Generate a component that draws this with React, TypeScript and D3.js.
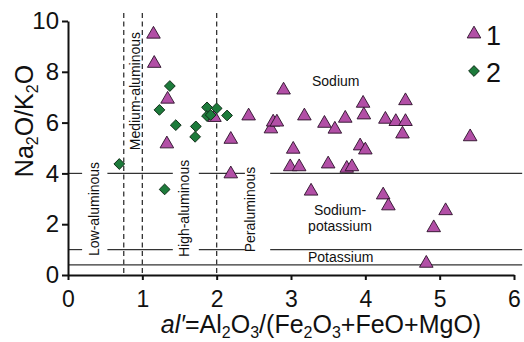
import React, { useRef, useEffect } from "react";
import * as d3 from "d3";

const width = 524;
const height = 342;
const plot = { left: 68, right: 514, top: 21, bottom: 275 }; // axis box in px
const font = "'Liberation Sans', Arial, sans-serif";
const triColor = "#b24fa6";
const dmdColor = "#1d7b3b";

// group 1 (triangles)
const triX = [1.15, 1.16, 1.34, 1.33, 1.97, 2.19, 2.19, 2.43, 2.73, 2.76, 2.81, 2.9, 3.18, 3.45, 3.59, 3.73, 3.03, 2.99, 3.11, 3.5, 3.75, 3.82, 3.27, 3.97, 3.98, 4.54, 4.27, 4.41, 4.54, 4.5, 5.41, 3.93, 4.0, 4.24, 4.31, 5.08, 4.92, 4.82];
const triY = [9.48, 8.33, 6.92, 5.16, 6.2, 5.34, 3.98, 6.26, 5.75, 6.02, 6.02, 7.28, 6.26, 5.97, 5.74, 6.17, 4.95, 4.26, 4.26, 4.37, 4.2, 4.26, 3.3, 6.76, 6.3, 6.86, 6.13, 6.04, 6.04, 5.55, 5.44, 5.08, 4.92, 3.15, 2.72, 2.53, 1.86, 0.46];
// group 2 (diamonds)
const dmdX = [0.69, 1.3, 1.37, 1.23, 1.45, 1.72, 1.71, 1.87, 2.0, 1.87, 1.92, 2.14];
const dmdY = [4.37, 3.37, 7.44, 6.5, 5.9, 5.85, 5.44, 6.6, 6.56, 6.26, 6.3, 6.28];

const xTicks = [0, 1, 2, 3, 4, 5, 6];
const yTicks = [0, 2, 4, 6, 8, 10];
const dashedX = [0.75, 1, 2]; // al' boundaries
const splitY = [4, 1]; // Na2O/K2O boundaries, broken around labels
const splitGaps = [[0.19, 0.53], [1.41, 1.76], [2.38, 2.72]];
const baseY = 0.4;
const lineEnd = 6.11;

const vLabels = [
  { text: "Low-aluminous", x: 0.42, y: 2.6 },
  { text: "Medium-aluminous", x: 0.965, y: 7.24 },
  { text: "High-aluminous", x: 1.63, y: 2.62 },
  { text: "Peraluminous", x: 2.52, y: 2.58 },
];

const x = d3.scaleLinear().domain([0, 6]).range([plot.left, plot.right]);
const y = d3.scaleLinear().domain([0, 10]).range([plot.bottom, plot.top]);

const triPath = d3.symbol(d3.symbolTriangle, 80)();
const dmdPath = d3.symbol(d3.symbolSquare, 58)();

const segments = (yv: number) => {
  const out: [number, number][] = [];
  let start = 0;
  splitGaps.forEach(([a, b]) => {
    out.push([start, a]);
    start = b;
  });
  out.push([start, lineEnd]);
  return out.map(([a, b]) => ({ a, b, yv }));
};

const App = () => {
  const xAxisRef = useRef<SVGGElement>(null);
  const yAxisRef = useRef<SVGGElement>(null);

  useEffect(() => {
    const fmt = d3.format("d");
    const xAxis = d3.axisBottom(x).tickValues(xTicks).tickFormat(fmt).tickSize(5).tickSizeOuter(0).tickPadding(11);
    const yAxis = d3.axisLeft(y).tickValues(yTicks).tickFormat(fmt).tickSize(6).tickSizeOuter(0).tickPadding(3);
    const gx = d3.select(xAxisRef.current!).call(xAxis);
    const gy = d3.select(yAxisRef.current!).call(yAxis);
    [gx, gy].forEach((g) => {
      g.attr("font-family", font);
      g.select(".domain").attr("stroke", "#111").attr("stroke-width", 2);
      g.selectAll(".tick line").attr("stroke", "#111").attr("stroke-width", 2);
      g.selectAll(".tick text").attr("fill", "#111");
    });
    gx.attr("font-size", 23);
    gy.attr("font-size", 24);
  }, []);

  const allSegs = splitY.flatMap(segments);

  return (
    <svg width={width} height={height} style={{ position: "absolute", left: 0, top: 0, background: "#fff" }} fontFamily={font}>
      {allSegs.map((s, i) => (
        <line key={"s" + i} x1={x(s.a)} x2={x(s.b)} y1={y(s.yv)} y2={y(s.yv)} stroke="#333" strokeWidth={1.2} />
      ))}
      <line x1={x(0)} x2={x(lineEnd)} y1={y(baseY)} y2={y(baseY)} stroke="#333" strokeWidth={1.2} />
      {dashedX.map((d) => (
        <line key={"d" + d} x1={x(d)} x2={x(d)} y1={13} y2={y(0)} stroke="#333" strokeWidth={1.3} strokeDasharray="5,3.5" />
      ))}

      {vLabels.map((l) => (
        <text key={l.text} transform={`translate(${x(l.x)},${y(l.y)}) rotate(-90)`} textAnchor="middle" fontSize={14} fill="#111">
          {l.text}
        </text>
      ))}
      <text x={312} y={86} fontSize={14} fill="#111">Sodium</text>
      <text x={340} y={215} fontSize={14} fill="#111" textAnchor="middle">Sodium-</text>
      <text x={340} y={231} fontSize={14} fill="#111" textAnchor="middle">potassium</text>
      <text x={308} y={262} fontSize={14} fill="#111">Potassium</text>

      {triX.map((v, i) => (
        <path key={"t" + i} d={triPath!} transform={`translate(${x(v)},${y(triY[i])})`} fill={triColor} stroke="#2a1028" strokeWidth={0.9} />
      ))}
      {dmdX.map((v, i) => (
        <path key={"m" + i} d={dmdPath!} transform={`translate(${x(v)},${y(dmdY[i])}) rotate(45)`} fill={dmdColor} stroke="#0e2a15" strokeWidth={0.9} />
      ))}

      <g ref={xAxisRef} transform={`translate(0,${plot.bottom})`} />
      <g ref={yAxisRef} transform={`translate(${plot.left},0)`} />

      <text transform="translate(33,121) rotate(-90)" textAnchor="middle" fontSize={25} fill="#111">
        Na<tspan fontSize={16} dy={5}>2</tspan>
        <tspan dy={-5}>O/K</tspan>
        <tspan fontSize={16} dy={5}>2</tspan>
        <tspan dy={-5}>O</tspan>
      </text>
      <text x={321} y={333} textAnchor="middle" fontSize={25} fill="#111">
        <tspan fontStyle="italic">al′</tspan>=Al<tspan fontSize={16} dy={5}>2</tspan>
        <tspan dy={-5}>O</tspan>
        <tspan fontSize={16} dy={5}>3</tspan>
        <tspan dy={-5}>/(Fe</tspan>
        <tspan fontSize={16} dy={5}>2</tspan>
        <tspan dy={-5}>O</tspan>
        <tspan fontSize={16} dy={5}>3</tspan>
        <tspan dy={-5}>+FeO+MgO)</tspan>
      </text>

      <path d={triPath!} transform="translate(474,34)" fill={triColor} stroke="#2a1028" strokeWidth={0.9} />
      <text x={486} y={45} fontSize={27} fill="#111">1</text>
      <path d={dmdPath!} transform="translate(474,71) rotate(45)" fill={dmdColor} stroke="#0e2a15" strokeWidth={0.9} />
      <text x={486} y={82} fontSize={27} fill="#111">2</text>
    </svg>
  );
};

export default App;
